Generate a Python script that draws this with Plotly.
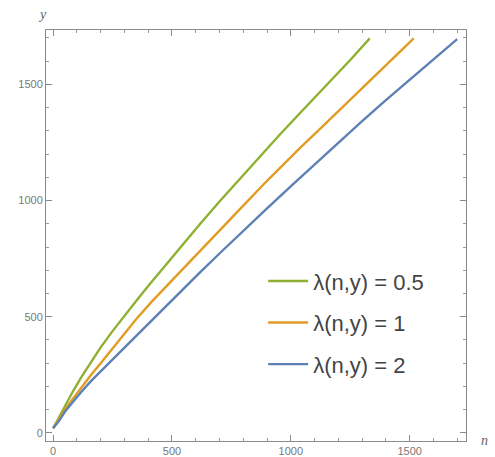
import plotly.graph_objects as go

# λ = 0.5 (green)
n_green = [0, 25, 50, 84, 120, 160, 200, 250, 300, 351, 400, 450, 521, 619, 700, 800, 893, 955, 1040, 1100, 1200, 1251, 1332]
y_green = [20, 68, 118, 180, 242, 305, 368, 438, 505, 570, 632, 694, 782, 900, 996, 1110, 1215, 1285, 1378, 1443, 1550, 1606, 1698]

# λ = 1 (orange)
n_orange = [0, 25, 50, 84, 120, 160, 200, 250, 300, 350, 415, 500, 619, 700, 800, 900, 955, 1040, 1124, 1200, 1300, 1426, 1517]
y_orange = [20, 60, 100, 148, 198, 250, 300, 365, 428, 490, 565, 657, 785, 872, 978, 1085, 1142, 1228, 1310, 1385, 1485, 1607, 1698]

# λ = 2 (blue)
n_blue = [0, 25, 50, 84, 120, 160, 225, 275, 350, 421, 485, 550, 619, 700, 800, 900, 1011, 1111, 1200, 1300, 1400, 1461, 1550, 1625, 1700]
y_blue = [20, 52, 92, 135, 178, 224, 290, 345, 420, 490, 556, 624, 692, 772, 870, 966, 1072, 1166, 1250, 1342, 1432, 1486, 1566, 1631, 1695]

labels = ["λ(n,y) = 0.5", "λ(n,y) = 1", "λ(n,y) = 2"]
colors = ["#8FB032", "#E19C24", "#5E81B5"]

x_ticks = [0, 500, 1000, 1500]
y_ticks = [0, 500, 1000, 1500]

fig = go.Figure()
for i, (nx, ny) in enumerate([(n_green, y_green), (n_orange, y_orange), (n_blue, y_blue)]):
    fig.add_trace(go.Scatter(
        x=nx, y=ny, mode="lines", name=labels[i], legendgroup=str(i),
        line=dict(color=colors[i], width=2.4),
    ))

W, H = 495, 457
L, R, T, B = 46, 29, 30, 16

axis_common = dict(
    showline=True, linecolor="#8a8a8a", linewidth=1, mirror="ticks",
    ticks="inside", ticklen=6, tickwidth=1, tickcolor="#8a8a8a",
    showgrid=False, zeroline=False, automargin=False,
    tickfont=dict(family="Liberation Sans, Arial, sans-serif", size=11, color="#777777"),
    minor=dict(ticks="inside", ticklen=3, tickwidth=1, tickcolor="#9a9a9a", dtick=100, showgrid=False),
)

fig.update_layout(
    width=W, height=H,
    margin=dict(l=L, r=R, t=T, b=B),
    paper_bgcolor="white", plot_bgcolor="white",
    xaxis=dict(range=[-30, 1737], tickvals=x_ticks, ticktext=[str(v) for v in x_ticks], **axis_common),
    yaxis=dict(range=[-35, 1734], tickvals=y_ticks, ticktext=[str(v) for v in y_ticks], **axis_common),
    showlegend=True,
    legend=dict(
        x=0.517, y=0.44, xanchor="left", yanchor="top",
        bgcolor="rgba(0,0,0,0)", borderwidth=0,
        font=dict(family="Liberation Sans, Arial, sans-serif", size=22, color="#444444"),
        tracegroupgap=10, itemwidth=40,
    ),
    annotations=[
        dict(text="<i>y</i>", xref="paper", yref="paper", x=(42 - L) / (W - L - R), y=(H - B - 15) / (H - T - B),
             showarrow=False, xanchor="center", yanchor="middle",
             font=dict(family="Liberation Serif, serif", size=14, color="#666666")),
        dict(text="<i>n</i>", xref="paper", yref="paper", x=(484 - L) / (W - L - R), y=(H - B - 440) / (H - T - B),
             showarrow=False, xanchor="center", yanchor="middle",
             font=dict(family="Liberation Serif, serif", size=14, color="#666666")),
    ],
)

fig.write_html("out.html")
